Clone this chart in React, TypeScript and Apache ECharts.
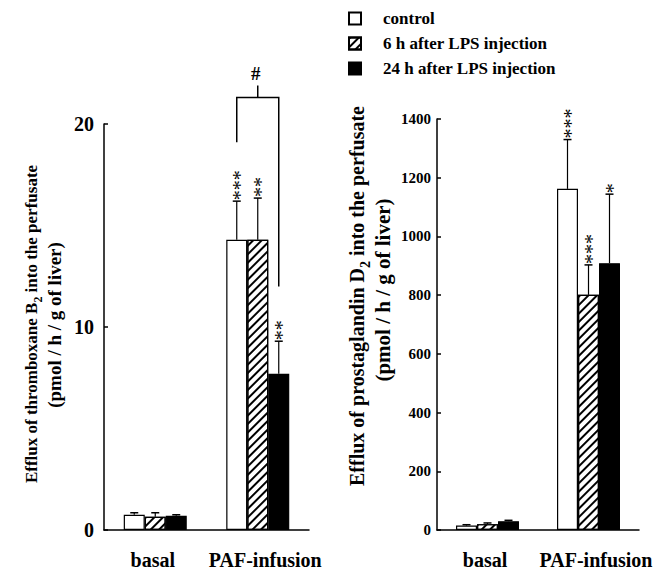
import React, { useEffect, useRef } from 'react';
import * as echarts from 'echarts';

const categories = ['basal', 'PAF-infusion'];
const seriesNames = ['control', '6 h after LPS injection', '24 h after LPS injection'];

// Thromboxane B2 (pmol/h/g of liver)
const txbControl = [0.75, 14.3];
const txb6h = [0.65, 14.3];
const txb24h = [0.7, 7.7];
const txbControlErr = [0.85, 16.2];
const txb6hErr = [0.85, 16.35];
const txb24hErr = [0.75, 9.3];
const txbStars = [['', '***'], ['', '**'], ['', '**']];

// Prostaglandin D2 (pmol/h/g of liver)
const pgdControl = [15, 1162];
const pgd6h = [20, 801];
const pgd24h = [30, 909];
const pgdControlErr = [18, 1330];
const pgd6hErr = [24, 903];
const pgd24hErr = [33, 1144];
const pgdStars = [['', '***'], ['', '***'], ['', '*']];

// comparison bracket on PAF-infusion (left panel): left leg bottom, top, right leg bottom, centre tick top
const bracketValues = [19.1, 21.3, 12.0, 21.9];
const bracketMark = '#';

const txbTitle = 'Efflux of thromboxane B{sub|2} into the perfusate';
const pgdTitle = 'Efflux of prostaglandin D{sub|2} into the perfusate';
const unitTitle = '(pmol / h / g of liver)';

const FONT = "'Liberation Serif', 'Times New Roman', serif";
const BW = 21;

function errorSeries(g: number, k: number, vals: number[], errs: number[], stars: string[]) {
  return {
    type: 'custom',
    xAxisIndex: g,
    yAxisIndex: g,
    silent: true,
    z: 5,
    clip: false,
    data: vals.map((v, i) => [i, v, errs[i]]),
    renderItem: (params: any, api: any) => {
      const i = api.value(0);
      const p0 = api.coord([i, api.value(1)]);
      const p1 = api.coord([i, api.value(2)]);
      const x = p0[0] + (k - 1) * BW;
      const st = stars[params.dataIndex];
      const children: any[] = [
        { type: 'line', shape: { x1: x, y1: p0[1], x2: x, y2: p1[1] }, style: { stroke: '#000', lineWidth: 1.2 } },
        { type: 'line', shape: { x1: x - 4, y1: p1[1], x2: x + 4, y2: p1[1] }, style: { stroke: '#000', lineWidth: 1.5 } },
      ];
      if (st) {
        children.push({
          type: 'text',
          x: x + 3,
          y: p1[1] - 1,
          rotation: Math.PI / 2,
          style: {
            text: st,
            align: 'left',
            verticalAlign: 'middle',
            fontSize: 20,
            fontFamily: FONT,
            fill: '#000',
          },
        });
      }
      return { type: 'group', children };
    },
  };
}

function barSeries(g: number, k: number, vals: number[]) {
  const base: any = {
    type: 'bar',
    name: seriesNames[k],
    xAxisIndex: g,
    yAxisIndex: g,
    barWidth: BW,
    barGap: '0%',
    data: vals,
    itemStyle: { color: '#fff', borderColor: '#000', borderWidth: 1.2 },
  };
  if (k === 1) {
    base.itemStyle.decal = {
      symbol: 'rect',
      symbolSize: 1,
      color: '#000',
      backgroundColor: '#fff',
      dashArrayX: [1, 0],
      dashArrayY: [1.2, 3.2],
      rotation: -Math.PI / 4,
    };
  }
  if (k === 2) base.itemStyle.color = '#000';
  return base;
}

function xAxis(g: number) {
  return {
    type: 'category',
    gridIndex: g,
    data: categories,
    axisLine: { lineStyle: { color: '#000', width: 1.5 } },
    axisTick: { show: false },
    axisLabel: {
      margin: 20,
      color: '#000',
      fontSize: 20,
      fontWeight: 'bold',
      fontFamily: FONT,
      interval: 0,
      formatter: (v: string) => (v === 'PAF-infusion' ? '{p|' + v + '}' : '{b|' + v + '}'),
      rich: {
        p: { fontSize: 20, fontWeight: 'bold', fontFamily: FONT, color: '#000', padding: [0, 0, 0, 15] },
        b: { fontSize: 20, fontWeight: 'bold', fontFamily: FONT, color: '#000', padding: [0, 5, 0, 0] },
      },
    },
    splitLine: { show: false },
  };
}

function yAxis(g: number, max: number, interval: number, fontSize: number, margin: number) {
  return {
    type: 'value',
    gridIndex: g,
    min: 0,
    max,
    interval,
    axisLine: { show: true, lineStyle: { color: '#000', width: 1.5 } },
    axisTick: { show: true, inside: true, length: 4, lineStyle: { color: '#000', width: 1.5 } },
    axisLabel: {
      color: '#000',
      fontSize,
      fontWeight: 'bold',
      fontFamily: FONT,
      margin,
      formatter: (v: number) => String(v),
    },
    splitLine: { show: false },
  };
}

function titleText(x: number, y: number, text: string, size: number) {
  return {
    type: 'text',
    x,
    y,
    rotation: Math.PI / 2,
    style: {
      text,
      align: 'center',
      verticalAlign: 'middle',
      fontSize: size,
      fontWeight: 'bold',
      fontFamily: FONT,
      fill: '#000',
      rich: {
        sub: { fontSize: size * 0.7, fontWeight: 'bold', fontFamily: FONT, fill: '#000', verticalAlign: 'bottom', lineHeight: size * 1.5 },
      },
    },
  };
}

export default function App() {
  const ref = useRef<HTMLDivElement>(null);
  useEffect(() => {
    if (!ref.current) return;
    const chart = echarts.init(ref.current, null, { renderer: 'svg' });
    const option: any = {
      animation: false,
      backgroundColor: '#fff',
      grid: [
        { left: 104, top: 124, width: 205, height: 406 },
        { left: 437, top: 119, width: 202, height: 411 },
      ],
      xAxis: [xAxis(0), xAxis(1)],
      yAxis: [yAxis(0, 20, 10, 20, 10), yAxis(1, 1400, 200, 15, 6)],
      legend: {
        orient: 'vertical',
        left: 343,
        top: 5,
        itemWidth: 12,
        itemHeight: 12,
        itemGap: 8,
        icon: 'rect',
        data: seriesNames,
        selectedMode: false,
        textStyle: { fontSize: 17, fontWeight: 'bold', fontFamily: FONT, color: '#000', padding: [0, 0, 0, 17] },
      },
      graphic: [
        titleText(31, 324, txbTitle, 17),
        titleText(54, 325, unitTitle, 19),
        titleText(357, 296, pgdTitle, 20),
        titleText(383, 290, unitTitle, 21),
      ],
      series: [
        barSeries(0, 0, txbControl),
        barSeries(0, 1, txb6h),
        barSeries(0, 2, txb24h),
        barSeries(1, 0, pgdControl),
        barSeries(1, 1, pgd6h),
        barSeries(1, 2, pgd24h),
        errorSeries(0, 0, txbControl, txbControlErr, txbStars[0]),
        errorSeries(0, 1, txb6h, txb6hErr, txbStars[1]),
        errorSeries(0, 2, txb24h, txb24hErr, txbStars[2]),
        errorSeries(1, 0, pgdControl, pgdControlErr, pgdStars[0]),
        errorSeries(1, 1, pgd6h, pgd6hErr, pgdStars[1]),
        errorSeries(1, 2, pgd24h, pgd24hErr, pgdStars[2]),
        {
          type: 'custom',
          xAxisIndex: 0,
          yAxisIndex: 0,
          silent: true,
          z: 6,
          clip: false,
          data: [[1, ...bracketValues]],
          renderItem: (_p: any, api: any) => {
            const c = api.value(0);
            const xc = api.coord([c, 0])[0];
            const xl = xc - BW;
            const xr = xc + BW;
            const yLb = api.coord([c, api.value(1)])[1];
            const yT = api.coord([c, api.value(2)])[1];
            const yRb = api.coord([c, api.value(3)])[1];
            const yTick = api.coord([c, api.value(4)])[1];
            const st = { stroke: '#000', lineWidth: 1.5, fill: 'none' };
            return {
              type: 'group',
              children: [
                { type: 'polyline', shape: { points: [[xl, yLb], [xl, yT], [xr, yT], [xr, yRb]] }, style: st },
                { type: 'line', shape: { x1: xc, y1: yT, x2: xc, y2: yTick }, style: st },
                {
                  type: 'text',
                  x: xc - 2,
                  y: yTick - 2,
                  style: { text: bracketMark, align: 'center', verticalAlign: 'bottom', fontSize: 19, fontWeight: 'bold', fontFamily: FONT, fill: '#000' },
                },
              ],
            };
          },
        },
      ],
    };
    chart.setOption(option);
    return () => chart.dispose();
  }, []);
  return <div ref={ref} style={{ position: 'absolute', left: 0, top: 0, width: 664, height: 572 }} />;
}
